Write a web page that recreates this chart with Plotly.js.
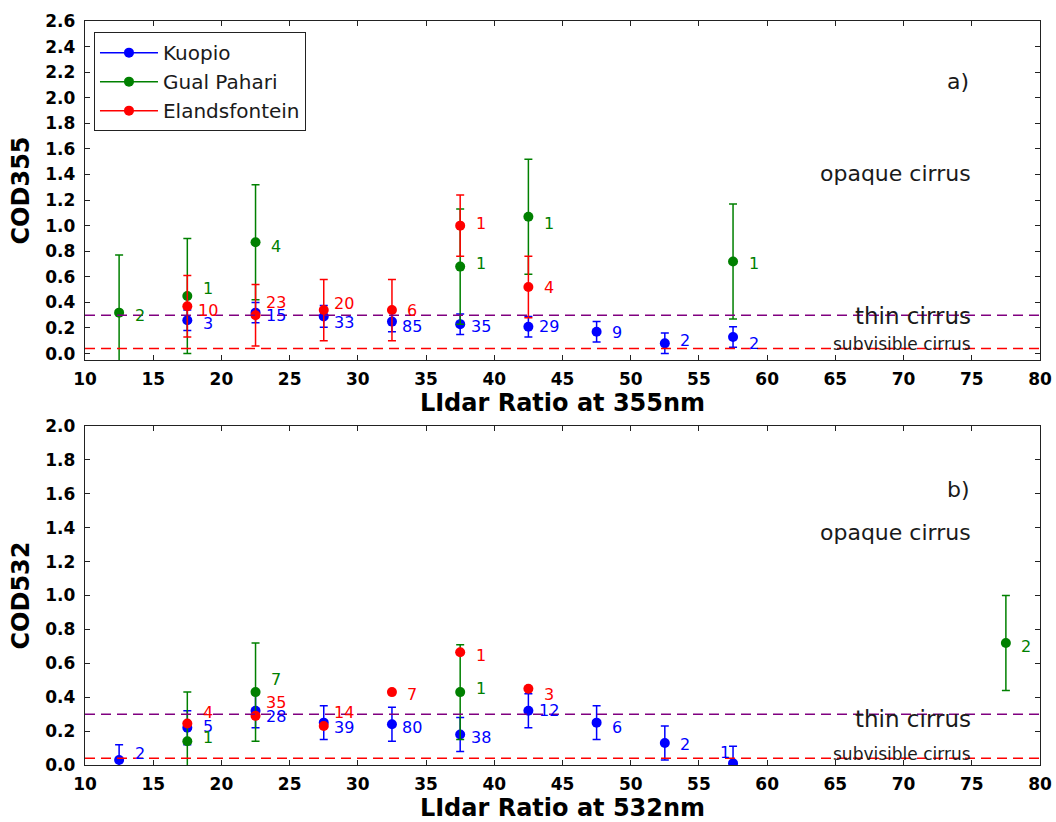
<!DOCTYPE html>
<html>
<head>
<meta charset="utf-8">
<script src="https://cdn.plot.ly/plotly-3.0.1.min.js"></script>
<style>
html, body { margin: 0; padding: 0; background: #ffffff; }
#chart { width: 1056px; height: 822px; }
</style>
</head>
<body>
<div id="chart"></div>
<script>
// ---------- data: panel a) 355 nm ----------
const kuopio355X = [17.5, 22.5, 27.5, 32.5, 37.5, 42.5, 47.5, 52.5, 57.5];
const kuopio355Y = [0.26, 0.32, 0.29, 0.25, 0.23, 0.21, 0.17, 0.08, 0.13];
const kuopio355Err = [0.08, 0.08, 0.085, 0.08, 0.08, 0.08, 0.08, 0.08, 0.08];
const kuopio355N = [3, 15, 33, 85, 35, 29, 9, 2, 2];

const gual355X = [12.5, 17.5, 22.5, 37.5, 42.5, 57.5];
const gual355Y = [0.32, 0.45, 0.87, 0.68, 1.07, 0.72];
const gual355Err = [0.45, 0.45, 0.45, 0.45, 0.45, 0.45];
const gual355N = [2, 1, 4, 1, 1, 1];

const eland355X = [17.5, 22.5, 27.5, 32.5, 37.5, 42.5];
const eland355Y = [0.37, 0.30, 0.34, 0.34, 1.00, 0.52];
const eland355Err = [0.24, 0.24, 0.24, 0.24, 0.24, 0.24];
const eland355N = [10, 23, 20, 6, 1, 4];

// ---------- data: panel b) 532 nm ----------
const kuopio532X = [12.5, 17.5, 22.5, 27.5, 32.5, 37.5, 42.5, 47.5, 52.5, 57.5];
const kuopio532Y = [0.03, 0.22, 0.32, 0.25, 0.24, 0.18, 0.32, 0.25, 0.13, 0.01];
const kuopio532Err = [0.09, 0.10, 0.10, 0.10, 0.10, 0.10, 0.10, 0.10, 0.10, 0.10];
const kuopio532N = [2, 5, 28, 39, 80, 38, 12, 6, 2, 1];

const gual532X = [17.5, 22.5, 37.5, 77.5];
const gual532Y = [0.14, 0.43, 0.43, 0.72];
const gual532Err = [0.29, 0.29, 0.28, 0.28];
const gual532N = [1, 7, 1, 2];

const eland532X = [17.5, 22.5, 27.5, 32.5, 37.5, 42.5];
const eland532Y = [0.245, 0.29, 0.23, 0.43, 0.665, 0.45];
const eland532N = [4, 35, 14, 7, 1, 3];

// thresholds (COD)
const thresholds = [0.04, 0.3];
const xTickVals = [10, 15, 20, 25, 30, 35, 40, 45, 50, 55, 60, 65, 70, 75, 80];

// ---------- label pixel nudges (style only) ----------
const shift = {
  k355: [-3, -3, -5.7, -5, -2, 0, -0.6, 3, -6.6],
  g355: [-3, 7.6, -4, 3, -7, -2],
  e355: [-4.7, 13, 7, 0, 1.7, 0],
  k532: [6.4, 1.6, -5.7, -5, -3.3, -3.3, 0, -5, -1.4, 10.6],
  g532: [3.4, 13, 3.7, -4],
  e532: [10.7, 13.4, 13.4, -2.7, -3, -6]
};
const xshiftK532 = [0, 0, 0, 0, 0, 0, 0, 0, 0, -29];

const BLUE = '#0000ff', GREEN = '#008000', RED = '#ff0000';
const FONT = 'DejaVu Sans, Verdana, sans-serif';

function errTrace(x, y, err, color, xa, ya) {
  const t = {
    x: x, y: y, type: 'scatter', mode: 'markers',
    marker: {color: color, size: 10},
    xaxis: xa, yaxis: ya, showlegend: false, hoverinfo: 'x+y'
  };
  if (err) {
    t.error_y = {type: 'data', array: err, visible: true, color: color, thickness: 1.5, width: 4};
  }
  return t;
}

function legendTrace(name, color) {
  return {
    x: [null], y: [null], type: 'scatter', mode: 'lines+markers', name: name,
    line: {color: color, width: 1.5}, marker: {color: color, size: 10},
    xaxis: 'x', yaxis: 'y', showlegend: true
  };
}

const data = [
  errTrace(kuopio355X, kuopio355Y, kuopio355Err, BLUE, 'x', 'y'),
  errTrace(gual355X, gual355Y, gual355Err, GREEN, 'x', 'y'),
  errTrace(eland355X, eland355Y, eland355Err, RED, 'x', 'y'),
  errTrace(kuopio532X, kuopio532Y, kuopio532Err, BLUE, 'x2', 'y2'),
  errTrace(gual532X, gual532Y, gual532Err, GREEN, 'x2', 'y2'),
  errTrace(eland532X, eland532Y, null, RED, 'x2', 'y2'),
  legendTrace('Kuopio', BLUE),
  legendTrace('Gual Pahari', GREEN),
  legendTrace('Elandsfontein', RED)
];

const annotations = [];
function addLabels(xs, ys, ns, color, xref, yref, yshifts, xshifts) {
  xs.forEach(function (x, i) {
    annotations.push({
      x: x + 1.5, y: ys[i], xref: xref, yref: yref, text: String(ns[i]),
      showarrow: false, xanchor: 'center', yanchor: 'middle',
      yshift: yshifts[i], xshift: xshifts ? xshifts[i] : 0,
      font: {family: FONT, size: 16, color: color}
    });
  });
}
addLabels(kuopio355X, kuopio355Y, kuopio355N, BLUE, 'x', 'y', shift.k355);
addLabels(gual355X, gual355Y, gual355N, GREEN, 'x', 'y', shift.g355);
addLabels(eland355X, eland355Y, eland355N, RED, 'x', 'y', shift.e355);
addLabels(kuopio532X, kuopio532Y, kuopio532N, BLUE, 'x2', 'y2', shift.k532, xshiftK532);
addLabels(gual532X, gual532Y, gual532N, GREEN, 'x2', 'y2', shift.g532);
addLabels(eland532X, eland532Y, eland532N, RED, 'x2', 'y2', shift.e532);

function regionText(text, x, y, xref, yref, size, anchor) {
  annotations.push({
    x: x, y: y, xref: xref, yref: yref, text: text, showarrow: false,
    xanchor: anchor || 'right', yanchor: 'middle',
    font: {family: FONT, size: size, color: '#1a1a1a'}
  });
}
regionText('opaque cirrus', 75.1, 1.405, 'x', 'y', 22);
regionText('thin cirrus', 75.1, 0.29, 'x', 'y', 23);
regionText('subvisible cirrus', 75.1, 0.077, 'x', 'y', 17);
regionText('a)', 74.0, 2.13, 'x', 'y', 22, 'center');
regionText('opaque cirrus', 75.1, 1.372, 'x2', 'y2', 22);
regionText('thin cirrus', 75.1, 0.27, 'x2', 'y2', 23);
regionText('subvisible cirrus', 75.1, 0.063, 'x2', 'y2', 17);
regionText('b)', 74.0, 1.626, 'x2', 'y2', 22, 'center');

const shapes = [];
['y', 'y2'].forEach(function (yr) {
  const xr = yr === 'y' ? 'x domain' : 'x2 domain';
  shapes.push({type: 'line', xref: xr, yref: yr, x0: 0, x1: 1, y0: thresholds[1], y1: thresholds[1],
    line: {color: '#800080', width: 1.5, dash: '10px,6px'}});
  shapes.push({type: 'line', xref: xr, yref: yr, x0: 0, x1: 1, y0: thresholds[0], y1: thresholds[0],
    line: {color: '#ff0000', width: 1.5, dash: '10px,6px'}});
});

const tickFont = {family: FONT, size: 17, color: '#000', weight: 'bold'};
const titleFont = {family: FONT, size: 24, color: '#000', weight: 'bold'};

function xAxis(anchor, title) {
  return {
    anchor: anchor, domain: [0, 1], range: [10, 80], tickvals: xTickVals,
    ticks: 'inside', ticklen: 5, tickwidth: 1, tickcolor: '#222',
    showline: true, linecolor: '#222', linewidth: 1.2, mirror: 'ticks',
    showgrid: false, zeroline: false, tickfont: tickFont, ticklabelstandoff: 3,
    title: {text: title, font: titleFont, standoff: 6}
  };
}
function yAxis(anchor, domain, range, title) {
  return {
    anchor: anchor, domain: domain, range: range, dtick: 0.2, tick0: 0, tickformat: '.1f',
    ticks: 'inside', ticklen: 5, tickwidth: 1, tickcolor: '#222',
    showline: true, linecolor: '#222', linewidth: 1.2, mirror: 'ticks',
    showgrid: false, zeroline: false, tickfont: tickFont, ticklabelstandoff: 5,
    title: {text: title, font: titleFont, standoff: 8}
  };
}

const layout = {
  width: 1056, height: 822,
  margin: {l: 85, r: 16, t: 21, b: 57},
  paper_bgcolor: '#ffffff', plot_bgcolor: '#ffffff',
  font: {family: FONT},
  showlegend: true,
  legend: {
    x: 0.0094, y: 0.985, xanchor: 'left', yanchor: 'top',
    bgcolor: '#ffffff', bordercolor: '#222', borderwidth: 1,
    font: {family: FONT, size: 20, color: '#1a1a1a'},
    itemwidth: 58
  },
  xaxis: xAxis('y', 'LIdar Ratio at 355nm'),
  yaxis: yAxis('x', [0.5444, 1], [-0.05, 2.6], 'COD355'),
  xaxis2: xAxis('y2', 'LIdar Ratio at 532nm'),
  yaxis2: yAxis('x2', [0, 0.4556], [0, 2.0], 'COD532'),
  annotations: annotations,
  shapes: shapes
};

Plotly.newPlot('chart', data, layout, {displayModeBar: false, staticPlot: true});
</script>
</body>
</html>
